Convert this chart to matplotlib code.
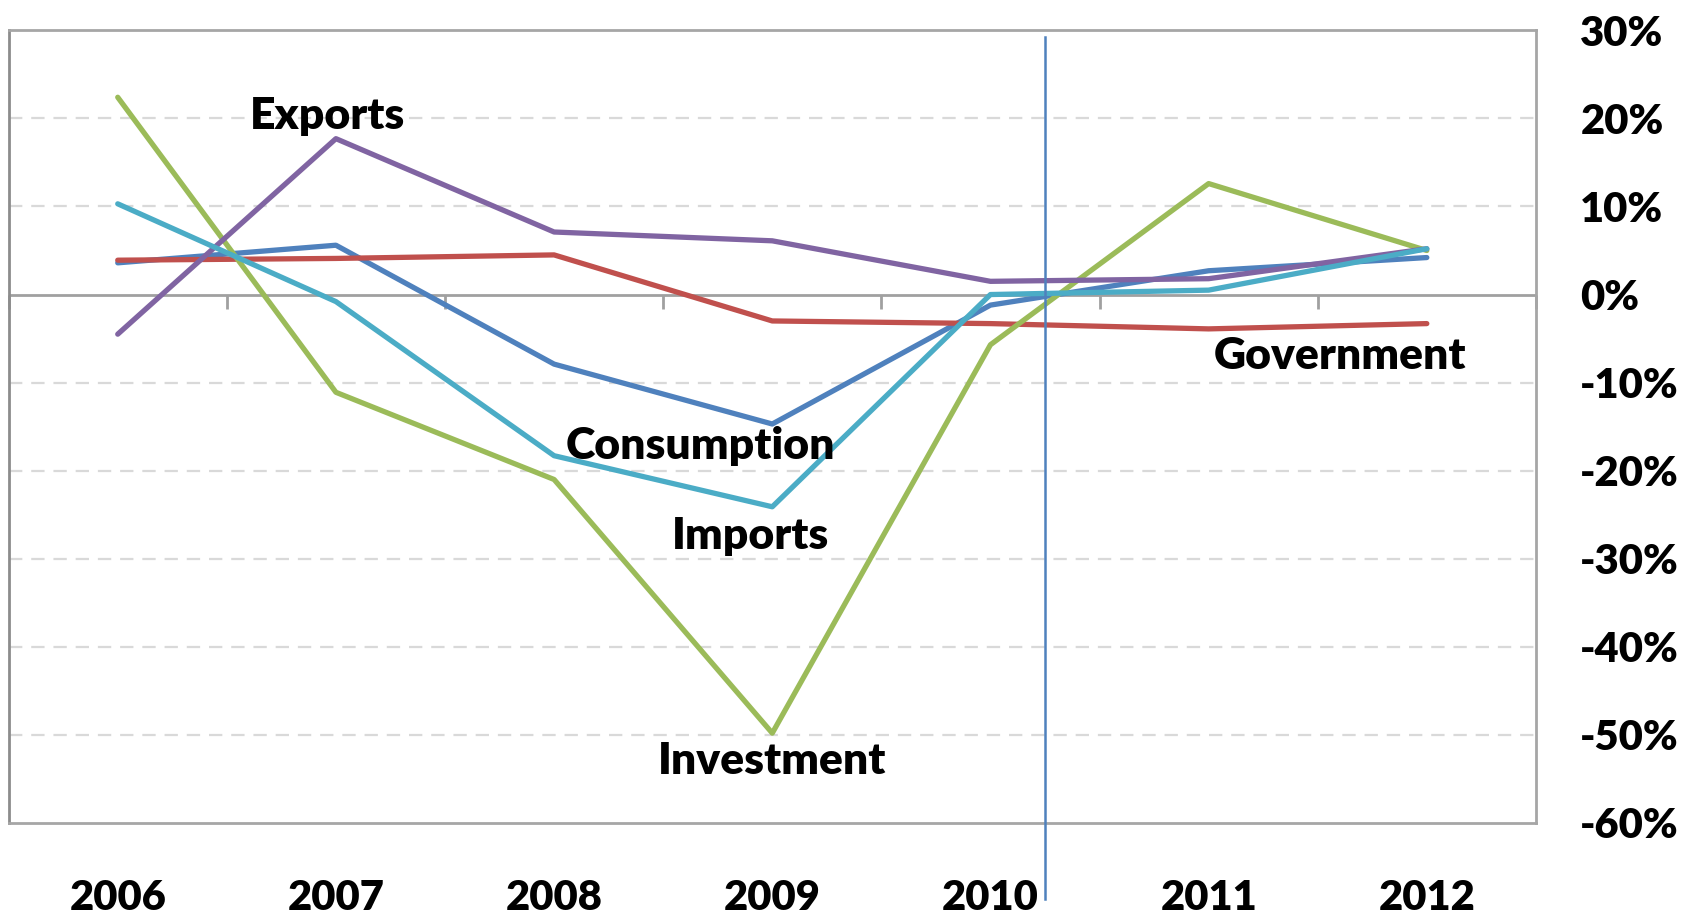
import numpy as np
import matplotlib
matplotlib.use("Agg")
import matplotlib.pyplot as plt

# annual growth rates, percent
years = ["2006", "2007", "2008", "2009", "2010", "2011", "2012"]
consumption = [3.6, 5.6, -7.9, -14.7, -1.2, 2.7, 4.2]
government = [3.9, 4.1, 4.5, -3.0, -3.3, -3.9, -3.3]
investment = [22.4, -11.1, -21.0, -49.8, -5.7, 12.6, 5.0]
exports = [-4.5, 17.7, 7.1, 6.1, 1.5, 1.8, 5.2]
imports = [10.3, -0.8, -18.3, -24.1, 0.0, 0.5, 5.2]

y_ticks = [30, 20, 10, 0, -10, -20, -30, -40, -50, -60]
y_tick_labels = ["30%", "20%", "10%", "0%", "-10%", "-20%", "-30%", "-40%", "-50%", "-60%"]

plt.rcParams["font.family"] = ["Lato", "DejaVu Sans"]

fig = plt.figure(figsize=(16.96, 9.19), dpi=100)
ax = fig.add_axes([0.0051, 0.1045, 0.9005, 0.8625])

x = np.arange(len(years))

series = [
    ("Consumption", consumption, "#4f81bd"),
    ("Government", government, "#c0504d"),
    ("Investment", investment, "#9bbb59"),
    ("Exports", exports, "#8064a2"),
    ("Imports", imports, "#4bacc6"),
]

# dashed gridlines, solid zero line
for v in y_ticks[1:-1]:
    if v == 0:
        ax.axhline(0, color="#a0a0a0", lw=2, zorder=1)
    else:
        ax.axhline(v, color="#d9d9d9", lw=1.6, ls=(0, (6, 4)), zorder=1)

# category separators hanging below the zero line
mids = np.arange(len(years) + 1) - 0.5
ax.vlines(mids, -1.6, 0, color="#a0a0a0", lw=2, zorder=1, clip_on=False)

for name, vals, col in series:
    ax.plot(x, vals, color=col, lw=3.8, solid_capstyle="round", zorder=3)

# forecast boundary
ax.plot([4.25, 4.25], [29.2, -68.6], color="#4f81bd", lw=1.8, clip_on=False, zorder=4)

labels = [
    ("Exports", 0.96, 20.3),
    ("Consumption", 2.67, -17.2),
    ("Imports", 2.90, -27.4),
    ("Investment", 3.00, -53.0),
    ("Government", 5.60, -7.0),
]
for text, lx, ly in labels:
    ax.text(lx, ly, text, ha="center", va="center", fontsize=32,
            fontweight="heavy", zorder=5)

ax.set_xlim(-0.5, 6.5)
ax.set_ylim(-60, 30)

ax.set_xticks(x)
ax.set_xticklabels(years, fontsize=30, fontweight="heavy")
ax.tick_params(axis="x", length=0, pad=40)

ax.yaxis.tick_right()
ax.set_yticks(y_ticks)
ax.set_yticklabels(y_tick_labels, fontsize=30, fontweight="heavy")
ax.tick_params(axis="y", length=0, pad=32)

for side in ["left", "right", "top", "bottom"]:
    ax.spines[side].set_color("#a6a6a6")
    ax.spines[side].set_linewidth(2)
ax.spines["left"].set_color("#8c8c8c")

fig.savefig("out.png", dpi=100)
